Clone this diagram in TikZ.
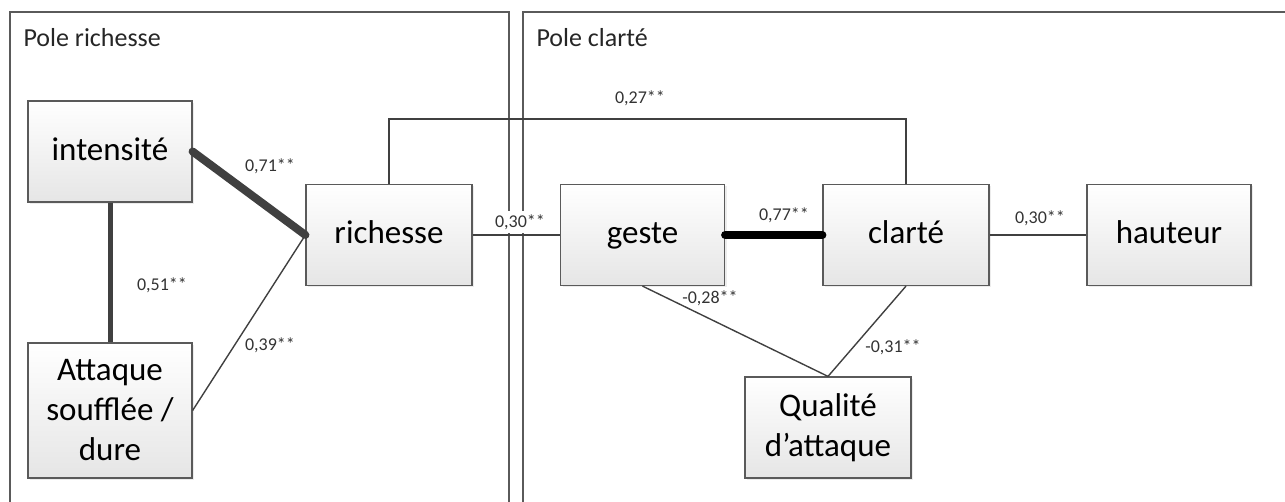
\documentclass[tikz,border=0pt]{standalone}
\usepackage{fontspec}
\setmainfont{Carlito}
\usetikzlibrary{shadows}
\definecolor{boxline}{HTML}{5A5A5A}
\definecolor{linkgrey}{HTML}{404040}
\begin{document}
\begin{tikzpicture}[x=1pt,y=-1pt,
  var/.style={draw=boxline, line width=1.2pt, top color=white, bottom color=black!10,
    minimum width=164pt, minimum height=101pt, align=center, inner sep=0pt,
    font=\fontsize{33}{40}\selectfont,
    drop shadow={opacity=0.15, shadow xshift=2pt, shadow yshift=-2pt}},
  mot/.style={var, text height=23pt, text depth=5pt},
  coef/.style={font=\fontsize{18}{21}\selectfont, text=black!80},
  pole/.style={font=\fontsize{26}{30}\selectfont, text=black!85, anchor=west},
  link/.style={draw=linkgrey, line width=1.4pt},
  fort/.style={draw=linkgrey, line width=8pt, line cap=round},
  moyen/.style={draw=linkgrey, line width=5pt},
  tresfort/.style={draw=black, line width=8pt, line cap=round}]
\useasboundingbox (0,0) rectangle (1285,502);
% poles
\draw[boxline, line width=1.2pt] (10,12) rectangle (509,515);
\draw[boxline, line width=1.2pt] (523,12) rectangle (1300,515);
\node[pole] (prich) at (20,38) {Pole richesse};
\node[pole] (pclar) at (533,38) {Pole clarté};
% variables
\node[mot] (intensite) at (110,151.5) {intensité};
\node[var, minimum height=135pt] (attaque) at (110,410.5) {Attaque\\soufflée /\\dure};
\node[mot, minimum width=166pt] (richesse) at (389,235) {richesse};
\node[mot] (geste) at (642.5,235) {geste};
\node[mot, minimum width=166pt] (clarte) at (906,235) {clarté};
\node[mot] (hauteur) at (1169,235) {hauteur};
\node[var, minimum width=166pt] (qualite) at (828,427.5) {Qualité\\d’attaque};
% correlations
\draw[fort] (intensite.east) -- (richesse.west);
\draw[moyen] (intensite.south) -- (attaque.north);
\draw[link] (attaque.east) -- (richesse.west);
\draw[link] (richesse.east) -- (geste.west);
\draw[tresfort] (geste.east) -- (clarte.west);
\draw[link] (clarte.east) -- (hauteur.west);
\draw[link] (richesse.north) -- ++(0,-65) -| (clarte.north);
\draw[link] (geste.south) -- (qualite.north);
\draw[link] (clarte.south) -- (qualite.north);
\node[coef] (c71) at (270,166) {0,71**};
\node[coef] (c51) at (162,285) {0,51**};
\node[coef] (c39) at (270,345) {0,39**};
\node[coef, fill=white, inner sep=1pt, minimum height=22pt] (c30a) at (520,222) {0,30**};
\node[coef] (c27) at (640,98) {0,27**};
\node[coef] (c77) at (784,215) {0,77**};
\node[coef] (c30b) at (1040,218) {0,30**};
\node[coef] (c28) at (710,298) {-0,28**};
\node[coef] (c31) at (893,347) {-0,31**};
\end{tikzpicture}
\end{document}
